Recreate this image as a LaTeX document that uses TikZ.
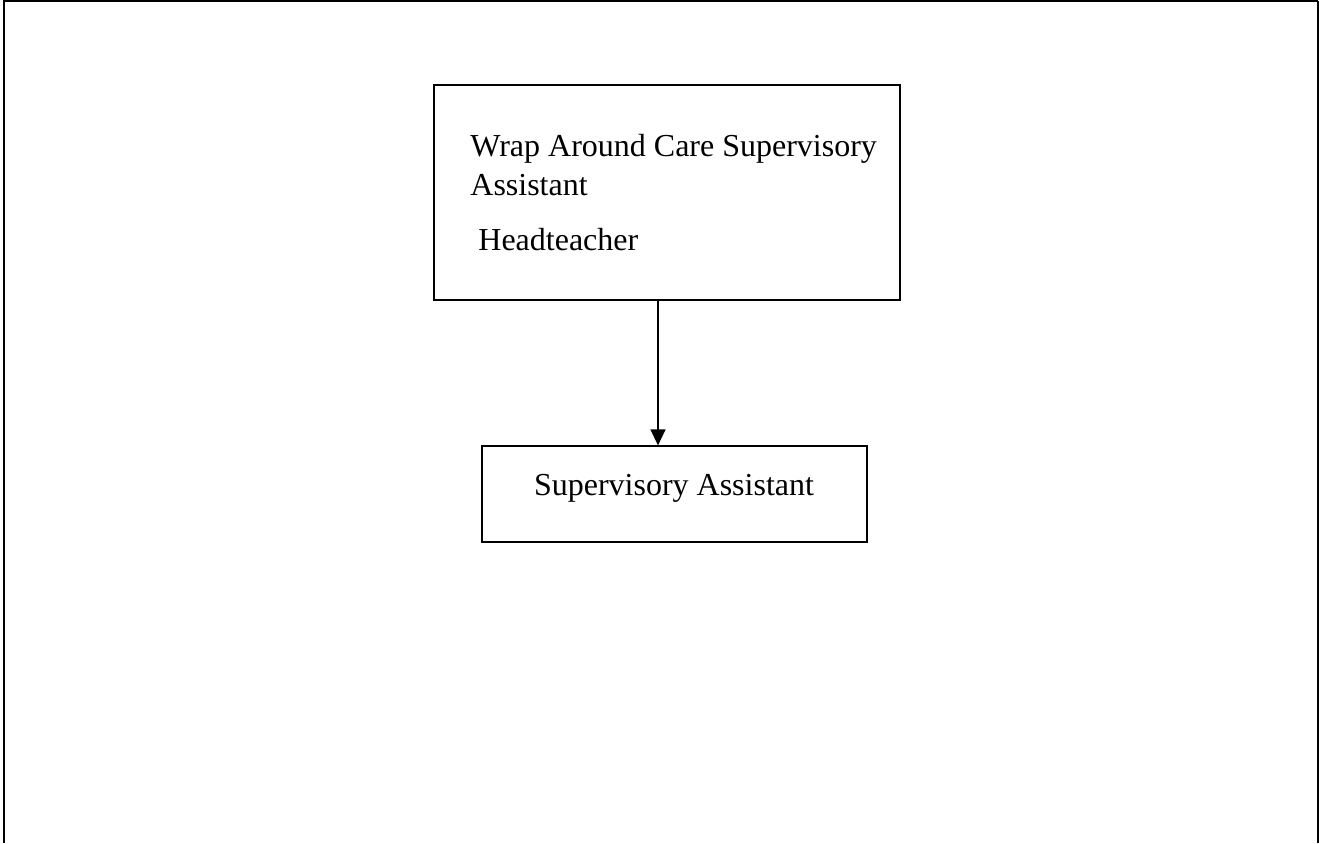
\documentclass[tikz,border=0pt]{standalone}
\usepackage{fontspec}
\setmainfont{Liberation Serif}
\usetikzlibrary{arrows.meta}
\begin{document}
\begin{tikzpicture}[x=0.5pt,y=-0.5pt,
  boxstyle/.style={draw,line width=0.6pt,rectangle,inner sep=0pt},
  labelstyle/.style={inner sep=0pt,font=\fontsize{16pt}{20pt}\selectfont},
  connector/.style={line width=0.6pt,-{Triangle[width=7.5pt,length=8pt]}}]
\useasboundingbox (0,0) rectangle (1319,843);
% outer frame (open at bottom)
\draw[line width=1.1pt] (4,843) -- (4,1.2) -- (1318,1.2);
\draw[line width=0.7pt] (1318,1) -- (1318,843);
% boxes
\node[boxstyle,minimum width=233pt,minimum height=107.5pt] (top) at (667,192.5) {};
\node[boxstyle,minimum width=192.5pt,minimum height=48pt] (bot) at (674.5,494) {};
% texts
\node[labelstyle,anchor=base west] (t1) at (470,156) {Wrap Around Care Supervisory};
\node[labelstyle,anchor=base west] (t2) at (470,195) {Assistant};
\node[labelstyle,anchor=base west] (t3) at (478,250) {Headteacher};
\node[labelstyle,anchor=base] (t4) at (674,495) {Supervisory Assistant};
% connector
\coordinate (ax) at (658,0);
\draw[connector] (top.south -| ax) -- (bot.north -| ax);
\end{tikzpicture}
\end{document}
